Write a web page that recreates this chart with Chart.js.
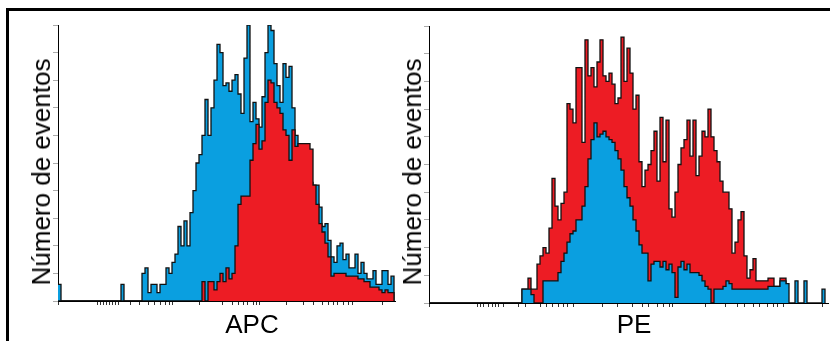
<!DOCTYPE html>
<html>
<head>
<meta charset="utf-8">
<script src="https://cdn.jsdelivr.net/npm/chart.js@4.4.0/dist/chart.umd.min.js"></script>
<style>
  html, body { margin: 0; padding: 0; background: #fff; }
  body { width: 830px; height: 341px; position: relative; overflow: hidden; font-family: "Liberation Sans", Arial, sans-serif; }
  canvas { position: absolute; top: 0; }
  #frame { position: absolute; left: 6px; top: 8px; width: 900px; height: 400px; border: 3px solid #000; }
  .ytitle, .xtitle { position: absolute; font-size: 26px; line-height: 26px; white-space: nowrap; color: #000; }
  .ytitle { transform: translate(-50%, -50%) rotate(-90deg); }
  .xtitle { transform: translateX(-50%); }
</style>
</head>
<body>
<div id="frame"></div>
<canvas id="chartAPC" width="415" height="341" style="left:0"></canvas>
<canvas id="chartPE" width="415" height="341" style="left:415px"></canvas>
<div class="ytitle" style="left:41px; top:172px">Número de eventos</div>
<div class="ytitle" style="left:412px; top:172px">Número de eventos</div>
<div class="xtitle" style="left:252px; top:311px">APC</div>
<div class="xtitle" style="left:634px; top:311px">PE</div>
<script>
// APC histogram (counts per channel, 0-100 of max)
const apcBlue = [
  6, 0, 0, 0, 0, 0, 0, 0, 0, 0, 0, 0, 0, 0, 0, 0, 0, 0, 0, 0,
  0, 6, 0, 0, 0, 0, 0, 0, 10, 12, 3, 6, 6, 3, 6, 6, 12, 10, 14, 17,
  27, 20, 29, 20, 32, 40, 50, 53, 60, 73, 60, 70, 80, 93, 90, 78, 79, 76, 80, 82,
  75, 68, 88, 100, 65, 72, 66, 63, 74, 90, 100, 98, 86, 78, 72, 86, 81, 85, 70, 60,
  50, 46, 55, 48, 43, 42, 42, 34, 27, 28, 22, 16, 14, 20, 21, 15, 17, 12, 12, 17,
  10, 14, 10, 8, 8, 11, 6, 6, 11, 11, 6, 9
];
const apcRed = [
  0, 0, 0, 0, 0, 0, 0, 0, 0, 0, 0, 0, 0, 0, 0, 0, 0, 0, 0, 0,
  0, 0, 0, 0, 0, 0, 0, 0, 0, 0, 0, 0, 0, 0, 0, 0, 0, 0, 0, 0,
  0, 0, 0, 0, 0, 0, 0, 0, 7, 0, 7, 7, 4, 7, 10, 7, 12, 8, 10, 20,
  35, 38, 38, 38, 51, 57, 64, 55, 58, 72, 80, 79, 72, 70, 68, 62, 60, 51, 62, 56,
  57, 57, 57, 57, 55, 42, 35, 28, 25, 21, 16, 9, 10, 10, 10, 10, 9, 9, 9, 9,
  8, 8, 7, 7, 5, 5, 5, 4, 3, 4, 3, 3
];
// PE histogram
const peBlue = [
  0, 0, 0, 0, 0, 0, 0, 0, 0, 0, 0, 0, 0, 0, 0, 0, 0, 0, 0, 0,
  0, 0, 0, 0, 0, 0, 0, 0, 0, 0, 0, 5, 5, 5, 3, 0, 0, 0, 8, 8,
  8, 8, 8, 11, 15, 18, 22, 25, 26, 30, 30, 35, 42, 52, 59, 65, 60, 61, 62, 60,
  59, 58, 55, 52, 48, 42, 38, 35, 30, 26, 21, 18, 18, 8, 14, 15, 15, 13, 15, 12,
  14, 11, 2, 13, 15, 12, 14, 11, 11, 11, 10, 8, 6, 5, 0, 5, 5, 5, 6, 8,
  7, 5, 5, 5, 5, 5, 5, 5, 5, 5, 5, 5, 5, 6, 6, 6, 6, 8, 8, 7,
  0, 0, 8, 0, 0, 8, 0, 0, 0, 0, 0, 5
];
const peRed = [
  0, 0, 0, 0, 0, 0, 0, 0, 0, 0, 0, 0, 0, 0, 0, 0, 0, 0, 0, 0,
  0, 0, 0, 0, 0, 0, 0, 0, 0, 0, 0, 5, 5, 9, 5, 5, 14, 17, 20, 18,
  27, 45, 35, 30, 36, 40, 72, 70, 65, 85, 85, 58, 95, 82, 85, 78, 87, 95, 82, 80,
  83, 79, 72, 74, 96, 80, 92, 83, 70, 75, 51, 42, 48, 50, 55, 62, 44, 67, 51, 66,
  34, 31, 40, 50, 56, 59, 66, 53, 66, 46, 53, 62, 60, 70, 60, 55, 51, 44, 40, 40,
  34, 18, 22, 30, 33, 17, 9, 12, 16, 8, 8, 8, 8, 9, 9, 6, 6, 9, 9
];

// tick marks along the bottom axes (channel positions)
const apcTicks = [0, 13, 14, 15, 16, 17, 18, 19, 20, 24, 27, 30, 32.3, 34, 35.7, 37, 38.3,
  47.3, 54.7, 58, 60, 61.7, 63.3, 65, 66.3, 67.3, 76.3, 81.7, 85, 88, 90, 91.7, 93.3, 95,
  96.7, 98, 108];
const peTicks = [0, 16, 17.3, 18.3, 19.7, 21, 22, 23.3, 24.7, 29.7, 32, 37, 39.3, 41.3, 43,
  44.7, 46.3, 48, 57.7, 62.7, 67.7, 71, 73.3, 76, 78.3, 80.3, 81.3, 92, 98.7, 102.7, 105.3,
  108, 110.3, 112.7, 114.7, 116.3, 118, 131];

const BLUE = "#0a9fe0";
const RED = "#ed1c24";

function toPoints(arr) {
  const pts = arr.map((v, i) => ({ x: i, y: v }));
  pts.push({ x: arr.length, y: 0 });
  return pts;
}

function histChart(id, blue, red, ticks, o) {
  return new Chart(document.getElementById(id).getContext("2d"), {
    type: "line",
    data: {
      datasets: [
        {
          data: toPoints(blue),
          backgroundColor: BLUE,
          borderColor: "#111",
          borderWidth: 1.3,
          fill: "origin",
          stepped: true,
          pointRadius: 0,
          order: o.blueOnTop ? 1 : 2,
        },
        {
          data: toPoints(red),
          backgroundColor: RED,
          borderColor: "#111",
          borderWidth: 1.3,
          fill: "origin",
          stepped: true,
          pointRadius: 0,
          order: o.blueOnTop ? 2 : 1,
        },
      ],
    },
    options: {
      responsive: false,
      animation: false,
      devicePixelRatio: 1,
      layout: { padding: { left: 0, top: o.top, right: o.right, bottom: 0 } },
      plugins: { legend: { display: false }, tooltip: { enabled: false } },
      scales: {
        x: {
          type: "linear",
          min: 0,
          max: o.max,
          afterFit: (s) => { s.height = o.xh; },
          afterBuildTicks: (s) => { s.ticks = ticks.map((v) => ({ value: v })); },
          grid: { drawOnChartArea: false, drawTicks: true, tickLength: 4, color: "#333" },
          border: { color: "#000", width: 1 },
          ticks: { autoSkip: false, maxRotation: 0, callback: () => "" },
        },
        y: {
          min: 0,
          max: 100,
          afterFit: (s) => { s.width = o.yw; },
          grid: { drawOnChartArea: false, drawTicks: true, tickLength: 5, color: "#aaa" },
          border: { color: "#000", width: 1 },
          ticks: { stepSize: 10, callback: () => "" },
        },
      },
    },
  });
}

histChart("chartAPC", apcBlue, apcRed, apcTicks, { top: 25, right: 20, xh: 40, yw: 58, max: 112.33, blueOnTop: false });
histChart("chartPE", peBlue, peRed, peTicks, { top: 26, right: 2, xh: 38, yw: 14, max: 133, blueOnTop: true });
</script>
</body>
</html>
